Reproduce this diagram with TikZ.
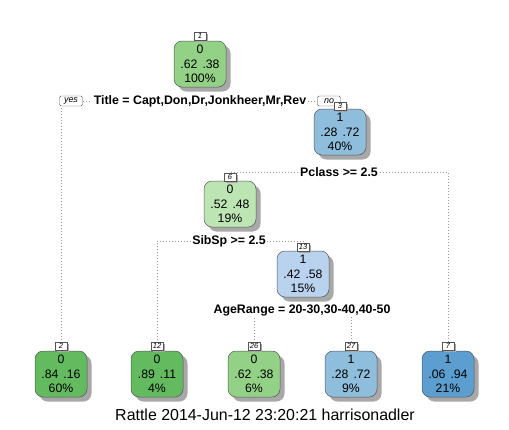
\documentclass[tikz,border=0pt]{standalone}
\usepackage{fontspec}
\setmainfont{Liberation Sans}
\usetikzlibrary{shadows}
\definecolor{gA}{HTML}{93D286}
\definecolor{gB}{HTML}{63BA5F}
\definecolor{gC}{HTML}{BDE5B4}
\definecolor{bA}{HTML}{8FBDDC}
\definecolor{bB}{HTML}{B9D3EE}
\definecolor{bC}{HTML}{5B9ECF}
\definecolor{edgeC}{HTML}{555555}
\definecolor{dotC}{HTML}{9A9A9A}
\definecolor{shadC}{HTML}{A8A8A8}
\tikzset{
  treebox/.style={draw=edgeC, line width=0.5bp, rounded corners=8bp,
    minimum width=52bp, minimum height=46bp, inner sep=0pt, align=center,
    font=\fontsize{12.3}{14.5}\selectfont,
    drop shadow={shadow xshift=4.5bp, shadow yshift=-4.5bp, fill=shadC, opacity=1}},
  numbox/.style={draw=edgeC, line width=0.4bp, fill=white, inner sep=0.8bp,
    minimum width=12bp, minimum height=8bp,
    font=\fontsize{7.5}{8}\itshape\selectfont,
    drop shadow={shadow xshift=2bp, shadow yshift=-2bp, fill=shadC, opacity=1}},
  yesno/.style={draw=edgeC, line width=0.4bp, fill=white, rounded corners=1.5bp,
    inner sep=0pt, minimum width=23bp, minimum height=10bp,
    font=\fontsize{9}{9}\itshape\selectfont},
  splitlab/.style={fill=white, inner sep=1.5bp, font=\fontsize{12.4}{14}\bfseries\selectfont},
  dotline/.style={draw=dotC, line width=0.7bp, dash pattern=on 1bp off 2bp},
}
\begin{document}
\begin{tikzpicture}[x=1bp,y=-1bp]
\useasboundingbox (0,0) rectangle (509,429);
% split labels
\node[splitlab] (s1) at (200,101) {Title = Capt,Don,Dr,Jonkheer,Mr,Rev};
\node[splitlab] (s3) at (339,172) {Pclass >= 2.5};
\node[splitlab] (s6) at (229,241) {SibSp >= 2.5};
\node[splitlab] (s13) at (302,310) {AgeRange = 20-30,30-40,40-50};
% number label positions
\coordinate (c1) at (200,36);
\coordinate (c3) at (340,106);
\coordinate (c6) at (230,177);
\coordinate (c13) at (303,247);
\coordinate (c2) at (61,346);
\coordinate (c12) at (157,346);
\coordinate (c26) at (254,346);
\coordinate (c27) at (351,346);
\coordinate (c7) at (448,346);
% connectors
\draw[dotline] (c2) |- (s1) -| (c3);
\draw[dotline] (c6) |- (s3) -| (c7);
\draw[dotline] (c12) |- (s6) -| (c13);
\draw[dotline] (c26) |- (s13) -| (c27);
% split label texts over the lines
\node[splitlab] at (s1) {Title = Capt,Don,Dr,Jonkheer,Mr,Rev};
\node[splitlab] at (s3) {Pclass >= 2.5};
\node[splitlab] at (s6) {SibSp >= 2.5};
\node[splitlab] at (s13) {AgeRange = 20-30,30-40,40-50};
% yes / no
\node[yesno] (yes) at (71,101) {yes};
\node[yesno] (no) at (329,101) {no};
% tree nodes
\node[treebox, fill=gA] (n1) at (200,64) {0\\.62\hspace{5bp}.38\\100\%};
\node[treebox, fill=bA] (n3) at (340,132) {1\\.28\hspace{5bp}.72\\40\%};
\node[treebox, fill=gC] (n6) at (230,204) {0\\.52\hspace{5bp}.48\\19\%};
\node[treebox, fill=bB] (n13) at (303,274) {1\\.42\hspace{5bp}.58\\15\%};
\node[treebox, fill=gB] (n2) at (61,374) {0\\.84\hspace{5bp}.16\\60\%};
\node[treebox, fill=gB] (n12) at (157,374) {0\\.89\hspace{5bp}.11\\4\%};
\node[treebox, fill=gA] (n26) at (254,374) {0\\.62\hspace{5bp}.38\\6\%};
\node[treebox, fill=bA] (n27) at (351,374) {1\\.28\hspace{5bp}.72\\9\%};
\node[treebox, fill=bC] (n7) at (448,374) {1\\.06\hspace{5bp}.94\\21\%};
% number boxes
\node[numbox] (l1) at (c1) {1};
\node[numbox] (l3) at (c3) {3};
\node[numbox] (l6) at (c6) {6};
\node[numbox] (l13) at (c13) {13};
\node[numbox] (l2) at (c2) {2};
\node[numbox] (l12) at (c12) {12};
\node[numbox] (l26) at (c26) {26};
\node[numbox] (l27) at (c27) {27};
\node[numbox] (l7) at (c7) {7};
% caption
\node[font=\fontsize{16}{18}\selectfont] (cap) at (265,415) {Rattle 2014-Jun-12 23:20:21 harrisonadler};
\end{tikzpicture}
\end{document}
